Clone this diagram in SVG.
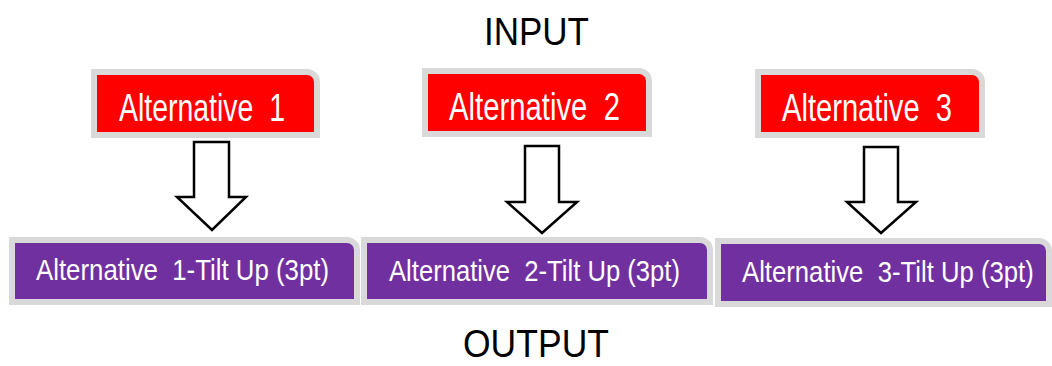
<svg xmlns="http://www.w3.org/2000/svg" width="1052" height="366" viewBox="0 0 1052 366">
<style>
text{white-space:pre}
.lbl{font-family:"Liberation Sans",Arial,sans-serif;fill:#000;font-size:39px}
.in{fill:#ff0000;stroke:#d9d9d9;stroke-width:6}
.out{fill:#7030a0;stroke:#d9d9d9;stroke-width:6}
.t1{font-family:"Liberation Sans",Arial,sans-serif;fill:#fff;font-size:38px}
.t2{font-family:"Liberation Sans",Arial,sans-serif;fill:#fff;font-size:30px}
.arr{fill:#fff;stroke:#000;stroke-width:2.5;stroke-linejoin:miter}
</style>
<rect width="1052" height="366" fill="#fff"/>
<text class="lbl" x="484" y="45" textLength="105" lengthAdjust="spacingAndGlyphs">INPUT</text>
<text class="lbl" x="463" y="357" textLength="146" lengthAdjust="spacingAndGlyphs">OUTPUT</text>
<g id="in1">
<path class="in" d="M94,72 H307 A10,10 0 0 1 317,82 V135 H94 Z"/>
<text class="t1" x="119" y="121" textLength="166" lengthAdjust="spacingAndGlyphs" xml:space="preserve">Alternative  1</text>
</g>
<g id="in2">
<path class="in" d="M425,71 H639 A10,10 0 0 1 649,81 V134 H425 Z"/>
<text class="t1" x="449" y="120" textLength="171" lengthAdjust="spacingAndGlyphs" xml:space="preserve">Alternative  2</text>
</g>
<g id="in3">
<path class="in" d="M758,72 H972 A10,10 0 0 1 982,82 V135 H758 Z"/>
<text class="t1" x="782" y="121" textLength="170" lengthAdjust="spacingAndGlyphs" xml:space="preserve">Alternative  3</text>
</g>
<g id="out1">
<path class="out" d="M12,240 H347 A10,10 0 0 1 357,250 V302 H12 Z"/>
<text class="t2" x="36" y="280" textLength="293" lengthAdjust="spacingAndGlyphs" xml:space="preserve">Alternative  1-Tilt Up (3pt)</text>
</g>
<g id="out2">
<path class="out" d="M364,240 H700 A10,10 0 0 1 710,250 V302 H364 Z"/>
<text class="t2" x="389" y="281" textLength="291" lengthAdjust="spacingAndGlyphs" xml:space="preserve">Alternative  2-Tilt Up (3pt)</text>
</g>
<g id="out3">
<path class="out" d="M718,241 H1039 A10,10 0 0 1 1049,251 V304 H718 Z"/>
<text class="t2" transform="translate(742,282) scale(0.857,1)" x="0" y="0" xml:space="preserve">Alternative  3-Tilt Up (3pt)</text>
</g>
<g id="connectors">
<polygon class="arr" points="194,142 229,142 229,197 246,197 212,230 177,197 194,197"/>
<polygon class="arr" points="525,146 559,146 559,202 577,202 542,233 507,202 525,202"/>
<polygon class="arr" points="864,147 898,147 898,202 916,202 881,233 847,202 864,202"/>
</g>
</svg>
